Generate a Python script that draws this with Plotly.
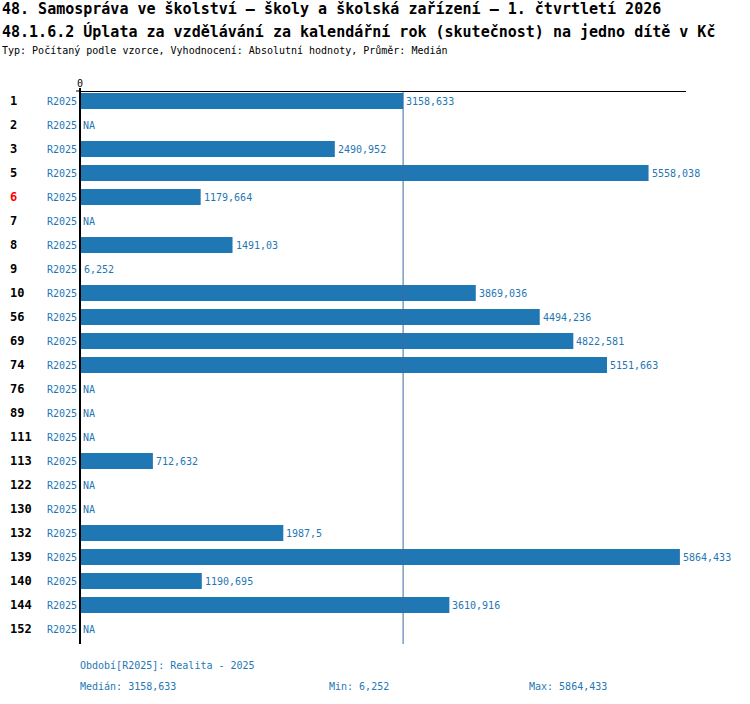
#!/usr/bin/env python3

# +
# import(s)
# -
import plotly.graph_objs as go


# +
# data
# -
rows = ['1', '2', '3', '5', '6', '7', '8', '9', '10', '56', '69', '74', '76', '89',
        '111', '113', '122', '130', '132', '139', '140', '144', '152']
values = [3158.633, None, 2490.952, 5558.038, 1179.664, None, 1491.03, 6.252, 3869.036,
          4494.236, 4822.581, 5151.663, None, None, None, 712.632, None, None, 1987.5,
          5864.433, 1190.695, 3610.916, None]
period = 'R2025'
highlight = '6'
median_value = 3158.633
min_value = 6.252
max_value = 5864.433

title_1 = '48. Samospráva ve školství – školy a školská zařízení – 1. čtvrtletí 2026'
title_2 = '48.1.6.2 Úplata za vzdělávání za kalendářní rok (skutečnost) na jedno dítě v Kč'
subtitle = 'Typ: Počítaný podle vzorce, Vyhodnocení: Absolutní hodnoty, Průměr: Medián'
period_note = 'Období[R2025]: Realita - 2025'


# +
# helpers
# -
W, H = 750, 704
L, R, T, B = 80, 686, 92, 644
MONO = 'DejaVu Sans Mono'
BLUE = '#1f77b4'


def px(p):
    return (p - L) / (R - L)


def py(p):
    return (B - p) / (B - T)


def fmt(v):
    return ('%.3f' % v).rstrip('0').rstrip('.').replace('.', ',')


# +
# figure
# -
idx = list(range(len(rows)))
fig = go.Figure()
fig.add_trace(go.Bar(x=[v if v is not None else 0 for v in values], y=idx,
                     orientation='h', width=0.67, marker=dict(color=BLUE, line=dict(width=0)),
                     hoverinfo='skip'))

ann = []
for i, r, v in zip(idx, rows, values):
    # value label or NA
    ann.append(dict(x=v if v is not None else 0, y=i, xref='x', yref='y',
                    text=fmt(v) if v is not None else 'NA', showarrow=False,
                    xanchor='left', xshift=1, font=dict(family=MONO, size=10, color=BLUE)))
    # period label
    ann.append(dict(x=px(79), y=i, xref='paper', yref='y', text=period, showarrow=False,
                    xanchor='right', font=dict(family=MONO, size=10, color=BLUE)))
    # row id
    ann.append(dict(x=px(8), y=i, xref='paper', yref='y', text='<b>%s</b>' % r, showarrow=False,
                    xanchor='left',
                    font=dict(family=MONO, size=12, color='red' if r == highlight else 'black')))

# title lines
ann.append(dict(x=px(0), y=py(9), xref='paper', yref='paper', text='<b>%s</b>' % title_1,
                showarrow=False, xanchor='left', yanchor='middle',
                font=dict(family=MONO, size=15, color='black')))
ann.append(dict(x=px(0), y=py(31), xref='paper', yref='paper', text='<b>%s</b>' % title_2,
                showarrow=False, xanchor='left', yanchor='middle',
                font=dict(family=MONO, size=15, color='black')))
ann.append(dict(x=px(0), y=py(50), xref='paper', yref='paper', text=subtitle,
                showarrow=False, xanchor='left', yanchor='middle',
                font=dict(family=MONO, size=10, color='black')))

# footer
foot = [(period_note, 78, 665), ('Medián: %s' % fmt(median_value), 78, 686),
        ('Min: %s' % fmt(min_value), 327, 686), ('Max: %s' % fmt(max_value), 527, 686)]
for t, x0, y0 in foot:
    ann.append(dict(x=px(x0), y=py(y0), xref='paper', yref='paper', text=t, showarrow=False,
                    xanchor='left', yanchor='middle', font=dict(family=MONO, size=10, color=BLUE)))

shapes = [
    # median line
    dict(type='line', xref='x', yref='paper', x0=median_value, x1=median_value, y0=0, y1=1,
         line=dict(color='#3a6e9e', width=1)),
    # left axis
    dict(type='line', xref='paper', yref='paper', x0=0, x1=0, y0=0, y1=py(88),
         line=dict(color='black', width=2)),
    # zero tick
    dict(type='line', xref='paper', yref='paper', x0=px(76), x1=px(80), y0=py(91), y1=py(91),
         line=dict(color='black', width=1)),
]

fig.update_layout(
    width=W, height=H, margin=dict(l=L, r=W - R, t=T, b=H - B, pad=0),
    paper_bgcolor='white', plot_bgcolor='white', showlegend=False,
    xaxis=dict(range=[0, 5924], side='top', showline=True, linecolor='black', linewidth=1,
               showgrid=False, zeroline=False, tickvals=[0], ticktext=['0'], ticks='',
               tickfont=dict(family=MONO, size=10, color='black'), fixedrange=True),
    yaxis=dict(range=[len(rows) - 0.375, -0.375], showticklabels=False, showgrid=False,
               zeroline=False, showline=False, fixedrange=True),
    annotations=ann, shapes=shapes, bargap=0.33,
)

fig.write_html('out.html', config={'displayModeBar': False},
               post_script="document.body.style.margin='0';")
